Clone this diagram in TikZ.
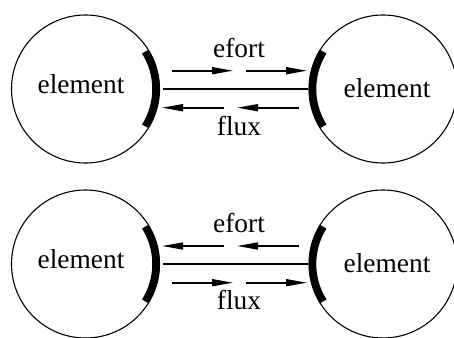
\documentclass[tikz,border=0pt]{standalone}
\usepackage{fontspec}
\setmainfont{Liberation Serif}
\usetikzlibrary{arrows.meta}
\begin{document}
\begin{tikzpicture}[x=1pt,y=-1pt,
  elem/.style={circle,draw,line width=1.1pt,minimum size=148pt,inner sep=0pt},
  word/.style={inner sep=0pt,font=\fontsize{27.4}{30}\selectfont},
  port/.style={line width=7.5pt},
  bond/.style={line width=1.4pt},
  sig/.style={line width=1.6pt,-{Triangle[length=21pt,width=7pt]}}]
\useasboundingbox (0,0) rectangle (454,337);
\clip (0,0) rectangle (454,337);

% ---- upper pair: effort to the right, flow to the left ----
\node[elem] (a1) at (85.5,89) {};
\node[elem] (b1) at (383,89) {};
\node[word] (ta1) at (81,84.5) {element};
\node[word] (tb1) at (387,88.3) {element};
\draw[port] (a1.center) ++(-32:70.5) arc[start angle=-32,end angle=32,radius=70.5];
\draw[port] (b1.center) ++(148:70.5) arc[start angle=148,end angle=212,radius=70.5];
\draw[bond,shorten <=3pt] (a1) -- (b1);
\node[word] (e1) at (239,48) {efort};
\node[word] (f1) at (239,126) {flux};
\coordinate (e1a) at (172,70.7); \coordinate (e1b) at (233,70.7);
\coordinate (e1c) at (246,70.7); \coordinate (e1d) at (307,70.7);
\coordinate (f1a) at (299,107.7); \coordinate (f1b) at (237,107.7);
\coordinate (f1c) at (224,107.7); \coordinate (f1d) at (162,107.7);
\draw[sig] (e1a) -- (e1b);
\draw[sig] (e1c) -- (e1d);
\draw[sig] (f1a) -- (f1b);
\draw[sig] (f1c) -- (f1d);

% ---- lower pair: effort to the left, flow to the right ----
\node[elem] (a2) at (85.5,264) {};
\node[elem] (b2) at (383,264) {};
\node[word] (ta2) at (81,259.5) {element};
\node[word] (tb2) at (387,263.3) {element};
\draw[port] (a2.center) ++(-32:70.5) arc[start angle=-32,end angle=32,radius=70.5];
\draw[port] (b2.center) ++(148:70.5) arc[start angle=148,end angle=212,radius=70.5];
\draw[bond,shorten <=3pt] (a2) -- (b2);
\node[word] (e2) at (239,223) {efort};
\node[word] (f2) at (239,300) {flux};
\coordinate (e2a) at (299,246); \coordinate (e2b) at (237,246);
\coordinate (e2c) at (224,246); \coordinate (e2d) at (162,246);
\coordinate (f2a) at (172,282.7); \coordinate (f2b) at (233,282.7);
\coordinate (f2c) at (246,282.7); \coordinate (f2d) at (307,282.7);
\draw[sig] (e2a) -- (e2b);
\draw[sig] (e2c) -- (e2d);
\draw[sig] (f2a) -- (f2b);
\draw[sig] (f2c) -- (f2d);
\end{tikzpicture}
\end{document}
